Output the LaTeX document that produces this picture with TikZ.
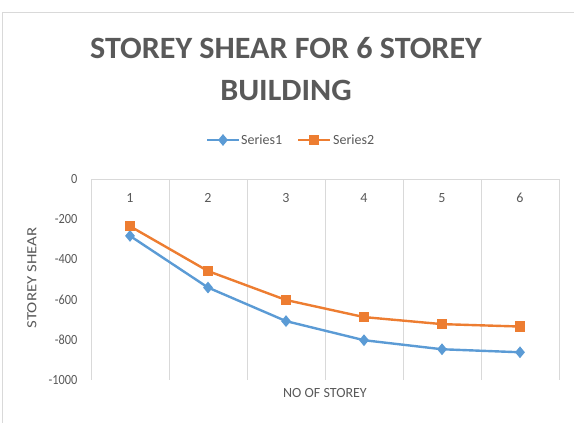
\documentclass[tikz,border=0pt]{standalone}
\usepackage{fontspec}
\setmainfont{Carlito}
\usetikzlibrary{shapes.geometric}
\definecolor{sblue}{HTML}{5B9BD5}
\definecolor{sorange}{HTML}{ED7D31}
\definecolor{gridc}{HTML}{D9D9D9}
\definecolor{txt}{HTML}{595959}
\begin{document}
\begin{tikzpicture}[x=1pt,y=-1pt,
  grid/.style={draw=gridc,line width=0.9pt},
  lbl/.style={text=txt,font=\fontsize{14}{16}\selectfont,inner sep=0pt},
  num/.style={lbl,xscale=0.88},
  ttl/.style={text=txt,font=\bfseries\fontsize{31}{37}\selectfont,inner sep=0pt,xscale=1.035},
  bluemark/.style={diamond,fill=sblue,draw=none,minimum width=10pt,minimum height=12pt,inner sep=0pt},
  orangemark/.style={rectangle,fill=sorange,draw=none,minimum size=10.5pt,inner sep=0pt},
  blueline/.style={draw=sblue,line width=2.4pt},
  orangeline/.style={draw=sorange,line width=2.4pt}]
\useasboundingbox (0,0) rectangle (574,423);
% chart frame
\draw[gridc,line width=0.9pt] (2,423) -- (2,12) -- (574,12);
% title
\node[ttl] (t1) at (286,48) {STOREY SHEAR FOR 6 STOREY};
\node[ttl] (t2) at (286,90) {BUILDING};
% legend
\coordinate (la) at (207,140); \coordinate (lb) at (239,140);
\draw[blueline] (la) -- (lb);
\node[bluemark] (lm1) at (223,140) {};
\node[lbl,anchor=west] (ls1) at (241,140) {Series1};
\coordinate (lc) at (298,140); \coordinate (ld) at (330,140);
\draw[orangeline] (lc) -- (ld);
\node[orangemark] (lm2) at (314,140) {};
\node[lbl,anchor=west] (ls2) at (333,140) {Series2};
% plot area grid
\foreach \x in {91,169,247,325,403,481,559} \draw[grid] (\x,179) -- (\x,380);
\draw[grid] (91,179) -- (559,179);
% value axis labels
\foreach \v/\y in {0/179,-200/219.2,-400/259.4,-600/299.6,-800/339.8,-1000/380}
  \node[num,anchor=east] at (77.5,\y) {\v};
% category labels
\foreach \i/\x in {1/130,2/208,3/286,4/364,5/442,6/520}
  \node[lbl] at (\x,198) {\i};
% axis titles
\node[lbl,rotate=90,xscale=1.2] (yt) at (32,278) {STOREY SHEAR};
\node[lbl] (xt) at (325,393) {NO OF STOREY};
% Series1
\foreach \n/\x/\v in {1/130/-283,2/208/-540,3/286/-707,4/364/-802,5/442/-847,6/520/-862}
  \coordinate (a\n) at (\x,{179-0.201*\v});
% Series2
\foreach \n/\x/\v in {1/130/-235,2/208/-458,3/286/-602,4/364/-687,5/442/-722,6/520/-734}
  \coordinate (b\n) at (\x,{179-0.201*\v});
\draw[blueline,line join=round] (a1) -- (a2) -- (a3) -- (a4) -- (a5) -- (a6);
\draw[orangeline,line join=round] (b1) -- (b2) -- (b3) -- (b4) -- (b5) -- (b6);
\foreach \n in {1,...,6} \node[bluemark] (am\n) at (a\n) {};
\foreach \n in {1,...,6} \node[orangemark] (bm\n) at (b\n) {};
\end{tikzpicture}
\end{document}
